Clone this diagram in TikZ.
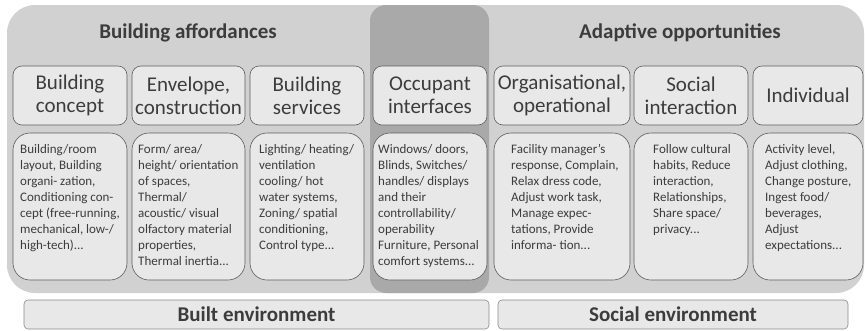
\documentclass[tikz,border=0pt]{standalone}
\usepackage{fontspec}
\setmainfont{Carlito}
\definecolor{bgc}{HTML}{D1D1D1}
\definecolor{darkc}{HTML}{A9A9A9}
\definecolor{boxc}{HTML}{E8E8E8}
\definecolor{linec}{HTML}{5C5C5C}
\definecolor{barline}{HTML}{8A8A8A}
\definecolor{txt}{HTML}{3C3C3C}
\begin{document}
\begin{tikzpicture}[x=1pt,y=-1pt,
  titlebox/.style={draw=linec, line width=0.6pt, fill=boxc, rounded corners=9pt,
    minimum height=59pt, inner sep=0pt, align=center,
    font=\fontsize{21}{23}\selectfont, text=txt},
  bodybox/.style={draw=linec, line width=0.6pt, fill=boxc, rounded corners=17pt,
    minimum height=147pt, inner sep=0pt},
  bodytext/.style={anchor=north west, align=left, inner sep=0pt,
    font=\fontsize{13}{16}\selectfont, text=txt},
  header/.style={anchor=base, inner sep=0pt, font=\bfseries\fontsize{21}{23}\selectfont, text=txt},
  envbar/.style={draw=barline, line width=0.6pt, fill=boxc, rounded corners=4pt,
    minimum height=29pt, inner sep=0pt, font=\bfseries\fontsize{21}{23}\selectfont, text=txt}]
\useasboundingbox[fill=white] (0,0) rectangle (865,330);
% backgrounds
\fill[bgc, rounded corners=28pt] (7,5) rectangle (864,293);
\fill[darkc, rounded corners=16pt] (370,5) rectangle (489,293);
% headers
\node[header] (hba) at (188,38) {Building affordances};
\node[header] (hao) at (680,38) {Adaptive opportunities};
% title boxes
\node[titlebox, minimum width=114pt] (t1) at (70,95.5) {Building\\concept};
\node[titlebox, minimum width=113pt] (t2) at (188.5,95.5) {Envelope,\\construction};
\node[titlebox, minimum width=114pt] (t3) at (307,95.5) {Building\\services};
\node[titlebox, minimum width=114pt] (t4) at (430,95.5) {Occupant\\interfaces};
\node[titlebox, minimum width=136pt] (t5) at (562,95.5) {Organisational,\\operational};
\node[titlebox, minimum width=114pt] (t6) at (691,95.5) {Social\\interaction};
\node[titlebox, minimum width=110pt] (t7) at (808,95.5) {Individual};
% body boxes
\node[bodybox, minimum width=114pt] (b1) at (70,206.5) {};
\node[bodybox, minimum width=113pt] (b2) at (188.5,206.5) {};
\node[bodybox, minimum width=114pt] (b3) at (307,206.5) {};
\node[bodybox, minimum width=114pt] (b4) at (430,206.5) {};
\node[bodybox, minimum width=136pt] (b5) at (562,206.5) {};
\node[bodybox, minimum width=114pt] (b6) at (691,206.5) {};
\node[bodybox, minimum width=110pt] (b7) at (808,206.5) {};
% body texts
\node[bodytext] (x1) at (20,141.8) {\strut Building/room\\layout, Building\\organi- zation,\\Conditioning con-\\cept (free-running,\\mechanical, low-/\\high-tech)...};
\node[bodytext] (x2) at (138,141.8) {\strut Form/ area/\\height/ orientation\\of spaces,\\Thermal/\\acoustic/ visual\\olfactory material\\properties,\\Thermal inertia...};
\node[bodytext] (x3) at (259,141.8) {\strut Lighting/ heating/\\ventilation\\cooling/ hot\\water systems,\\Zoning/ spatial\\conditioning,\\Control type...};
\node[bodytext] (x4) at (378,141.8) {\strut Windows/ doors,\\Blinds, Switches/\\handles/ displays\\and their\\controllability/\\operability\\Furniture, Personal\\comfort systems...};
\node[bodytext] (x5) at (511,141.8) {\strut Facility manager{\char"27}s\\response, Complain,\\Relax dress code,\\Adjust work task,\\Manage expec-\\tations, Provide\\informa- tion...};
\node[bodytext] (x6) at (653,141.8) {\strut Follow cultural\\habits, Reduce\\interaction,\\Relationships,\\Share space/\\privacy...};
\node[bodytext] (x7) at (765,141.8) {\strut Activity level,\\Adjust clothing,\\Change posture,\\Ingest food/\\beverages,\\Adjust\\expectations...};
% environment bars
\node[envbar, minimum width=465pt] (built) at (256.5,314.5) {Built environment};
\node[envbar, minimum width=350pt] (social) at (673,314.5) {Social environment};
\end{tikzpicture}
\end{document}
